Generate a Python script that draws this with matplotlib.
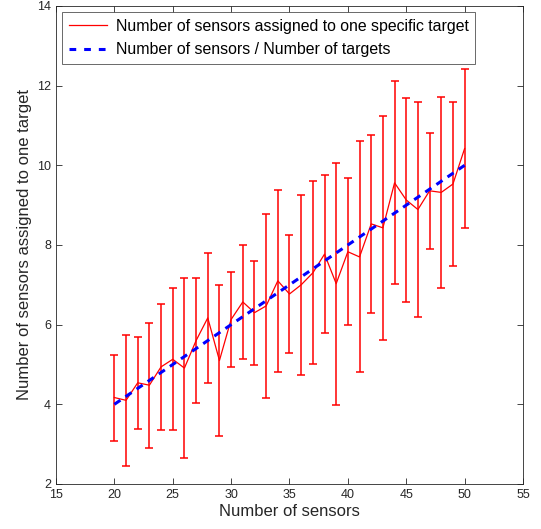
import numpy as np
import matplotlib
matplotlib.use("Agg")
import matplotlib.pyplot as plt
from matplotlib.lines import Line2D

plt.rcParams["font.family"] = ["Liberation Sans", "DejaVu Sans"]

# ── Data ──────────────────────────────────────────────────────────────────────
n_sensors = list(range(20, 51))
mean_assigned = [4.17, 4.10, 4.54, 4.48, 4.94, 5.13, 4.91, 5.60, 6.17, 5.10,
                 6.13, 6.57, 6.30, 6.47, 7.10, 6.77, 7.00, 7.30, 7.77, 7.03,
                 7.83, 7.70, 8.53, 8.43, 9.56, 9.13, 8.89, 9.36, 9.32, 9.53,
                 10.42]
err_assigned = [1.08, 1.65, 1.16, 1.57, 1.59, 1.78, 2.25, 1.56, 1.64, 1.90,
                1.20, 1.43, 1.31, 2.31, 2.29, 1.47, 2.26, 2.30, 1.99, 3.04,
                1.85, 2.90, 2.24, 2.81, 2.55, 2.56, 2.70, 1.45, 2.39, 2.05,
                2.00]
n_targets = 5
ratio = [n / n_targets for n in n_sensors]

RED = "#ff0000"
BLUE = "#0000ff"
DASH = (0, (2.4, 2.0))

# ── Plot ──────────────────────────────────────────────────────────────────────
fig = plt.figure(figsize=(5.41, 5.29), dpi=100)
ax = fig.add_axes([0.1035, 0.0851, 0.8632, 0.9036])

ax.errorbar(n_sensors, mean_assigned, yerr=err_assigned, color=RED,
            linewidth=0.9, elinewidth=1.1, capsize=2.7, capthick=1.1, zorder=2)
ax.plot(n_sensors, ratio, color=BLUE, linewidth=2.2, linestyle=DASH, zorder=3)

ax.set_xlim(15, 55)
ax.set_ylim(2, 14)
ax.set_xticks(range(15, 56, 5))
ax.set_yticks(range(2, 15, 2))
ax.tick_params(direction="in", top=True, right=True, length=4, width=0.6,
               labelsize=9, colors="#262626")
for s in ax.spines.values():
    s.set_color("#262626")
    s.set_linewidth(0.6)

ax.set_xlabel("Number of sensors", fontsize=12, color="#262626", labelpad=2)
ax.set_ylabel("Number of sensors assigned to one target", fontsize=12,
              color="#262626", labelpad=4)

handles = [
    Line2D([], [], color=RED, linewidth=0.9),
    Line2D([], [], color=BLUE, linewidth=2.2, linestyle=(0, (2.2, 2.6))),
]
labels = ["Number of sensors assigned to one specific target",
          "Number of sensors / Number of targets"]
leg = ax.legend(handles, labels, loc="upper left", fontsize=11.4, frameon=True,
                fancybox=False, edgecolor="#262626", borderaxespad=0.4,
                handlelength=2.4, handletextpad=0.6, borderpad=0.4,
                labelspacing=0.55)
leg.get_frame().set_linewidth(0.6)

fig.savefig("out.png", dpi=100)
